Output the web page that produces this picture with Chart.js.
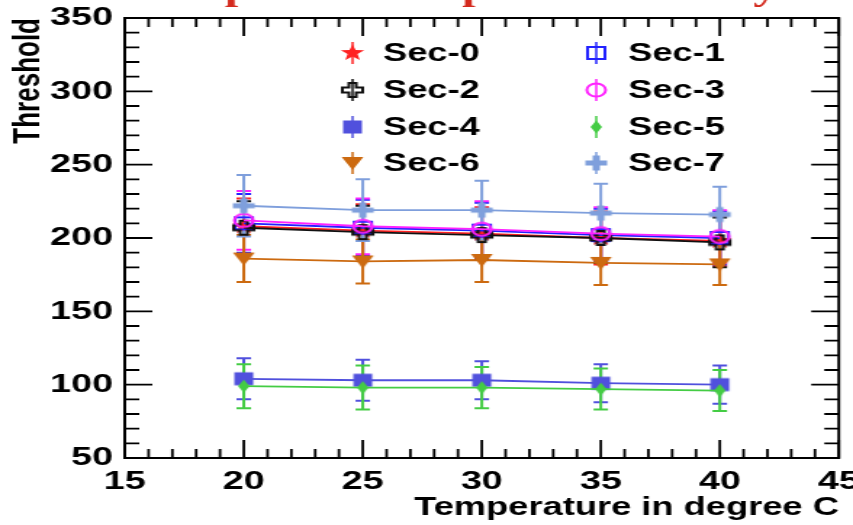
<!DOCTYPE html>
<html>
<head>
<meta charset="utf-8">
<script src="https://cdn.jsdelivr.net/npm/chart.js@4.4.0/dist/chart.umd.min.js"></script>
<style>
  html, body { margin: 0; padding: 0; background: #fff; overflow: hidden; }
  /* the original picture is stretched sideways, so draw narrow and stretch */
  #wrap { width: 588px; height: 525px; transform: scaleX(1.4507); transform-origin: 0 0; }
</style>
</head>
<body>
<div id="wrap"><canvas id="myChart" width="588" height="525"></canvas></div>
<script>
const temps = [20, 25, 30, 35, 40];

const sec0 = [208, 205, 203, 200, 198];
const sec1 = [210, 207, 205, 202, 200];
const sec2 = [207, 204, 202, 200, 197];
const sec3 = [212, 208, 206, 203, 201];
const sec4 = [104, 103, 103, 101, 100];
const sec5 = [99, 98, 98, 97, 96];
const sec6 = [186, 184, 185, 183, 182];
const sec7 = [222, 219, 219, 217, 216];

const err0 = [19, 18, 18, 18, 17];
const err1 = [20, 19, 19, 18, 18];
const err2 = [18, 18, 17, 17, 17];
const err3 = [20, 19, 19, 18, 18];
const err4 = [14, 14, 13, 13, 13];
const err5 = [15, 15, 14, 14, 14];
const err6 = [16, 15, 15, 15, 14];
const err7 = [21, 21, 20, 20, 19];

const names = ['Sec-0', 'Sec-1', 'Sec-2', 'Sec-3', 'Sec-4', 'Sec-5', 'Sec-6', 'Sec-7'];
const colors = ['#ff2222', '#2222ff', '#111111', '#ff22ff', '#5050dd', '#44cc44', '#cc6a10', '#7f9fdc'];
const markers = ['star', 'openSquare', 'openCross', 'openCircle', 'square', 'diamond', 'triangleDown', 'cross'];

const xTickValues = [15, 20, 25, 30, 35, 40, 45];
const yTickValues = [50, 100, 150, 200, 250, 300, 350];

const series = [sec0, sec1, sec2, sec3, sec4, sec5, sec6, sec7];
const errs = [err0, err1, err2, err3, err4, err5, err6, err7];

const titleText = 'Temperature dependence study';

function markerCanvas(kind, color) {
    const c = document.createElement('canvas');
    c.width = 20; c.height = 20;
    const g = c.getContext('2d');
    g.translate(10, 10);
    g.fillStyle = color;
    g.strokeStyle = color;
    g.lineWidth = 2;
    g.beginPath();
    if (kind === 'star') {
        for (let k = 0; k < 10; k++) {
            const r = k % 2 === 0 ? 8.5 : 3.6;
            const a = -Math.PI / 2 + k * Math.PI / 5;
            g.lineTo(r * Math.cos(a), r * Math.sin(a));
        }
        g.closePath(); g.fill();
    } else if (kind === 'openSquare') {
        g.strokeRect(-6, -6, 12, 12);
    } else if (kind === 'openCross') {
        const w = 2.5, l = 7;
        g.moveTo(-w, -l); g.lineTo(w, -l); g.lineTo(w, -w); g.lineTo(l, -w); g.lineTo(l, w);
        g.lineTo(w, w); g.lineTo(w, l); g.lineTo(-w, l); g.lineTo(-w, w); g.lineTo(-l, w);
        g.lineTo(-l, -w); g.lineTo(-w, -w); g.closePath(); g.stroke();
    } else if (kind === 'openCircle') {
        g.arc(0, 0, 6.5, 0, Math.PI * 2); g.stroke();
    } else if (kind === 'square') {
        g.fillRect(-6.5, -6.5, 13, 13);
    } else if (kind === 'diamond') {
        g.moveTo(0, -6.5); g.lineTo(4, 0); g.lineTo(0, 6.5); g.lineTo(-4, 0); g.closePath(); g.fill();
    } else if (kind === 'triangleDown') {
        g.moveTo(-7.5, -6); g.lineTo(7.5, -6); g.lineTo(0, 7); g.closePath(); g.fill();
    } else if (kind === 'cross') {
        g.fillRect(-7.5, -2.5, 15, 5);
        g.fillRect(-2.5, -7.5, 5, 15);
    }
    return c;
}

const markerImgs = markers.map((m, i) => markerCanvas(m, colors[i]));

// later sectors sit on top, as in the original
const datasets = series.map((vals, i) => ({
    label: names[i],
    data: temps.map((t, j) => ({x: t, y: vals[j]})),
    showLine: true,
    borderColor: colors[i],
    backgroundColor: colors[i],
    borderWidth: 1.8,
    pointStyle: markerImgs[i],
    pointRadius: 8,
    pointHoverRadius: 8,
    order: series.length - i
}));

// frame with inward ticks on all four sides, like the original plot
const frame = {
    id: 'frame',
    beforeDatasetsDraw(chart) {
        const {ctx, chartArea: a, scales: {x, y}} = chart;
        ctx.save();
        ctx.strokeStyle = '#000';
        ctx.lineWidth = 2;
        ctx.strokeRect(a.left, a.top, a.right - a.left, a.bottom - a.top);
        ctx.lineWidth = 1.8;
        ctx.beginPath();
        for (let v = x.min; v <= x.max; v += 1) {
            const px = x.getPixelForValue(v);
            const len = v % 5 === 0 ? 18 : 9;
            ctx.moveTo(px, a.bottom); ctx.lineTo(px, a.bottom - len);
            ctx.moveTo(px, a.top); ctx.lineTo(px, a.top + len);
        }
        for (let v = y.min; v <= y.max; v += 10) {
            const py = y.getPixelForValue(v);
            const len = v % 50 === 0 ? 19 : 10;
            ctx.moveTo(a.left, py); ctx.lineTo(a.left + len, py);
            ctx.moveTo(a.right, py); ctx.lineTo(a.right - len, py);
        }
        ctx.stroke();
        ctx.restore();
    }
};

const errorBars = {
    id: 'errorBars',
    beforeDatasetsDraw(chart) {
        const {ctx, scales: {x, y}} = chart;
        chart.data.datasets.forEach((ds, i) => {
            const e = errs[i];
            ctx.save();
            ctx.strokeStyle = ds.borderColor;
            ctx.lineWidth = 2;
            ctx.beginPath();
            ds.data.forEach((p, j) => {
                const px = x.getPixelForValue(p.x);
                const top = y.getPixelForValue(p.y + e[j]);
                const bot = y.getPixelForValue(p.y - e[j]);
                ctx.moveTo(px, top); ctx.lineTo(px, bot);
                ctx.moveTo(px - 5, top); ctx.lineTo(px + 5, top);
                ctx.moveTo(px - 5, bot); ctx.lineTo(px + 5, bot);
            });
            ctx.stroke();
            ctx.restore();
        });
    }
};

const legendBox = {
    id: 'legendBox',
    afterDraw(chart) {
        const ctx = chart.ctx;
        const markX = [243, 411], textX = [264, 433];
        const rowY = [53, 90, 127, 163];
        ctx.save();
        chart.data.datasets.forEach((ds, i) => {
            const col = i % 2, row = Math.floor(i / 2);
            const mx = markX[col], my = rowY[row];
            ctx.strokeStyle = ds.borderColor;
            ctx.lineWidth = 1.5;
            ctx.beginPath();
            ctx.moveTo(mx, my - 11); ctx.lineTo(mx, my + 11);
            ctx.stroke();
            const img = ds.pointStyle;
            ctx.drawImage(img, mx - img.width / 2, my - img.height / 2);
            ctx.fillStyle = '#000';
            ctx.font = 'bold 25px "Liberation Sans", Arial, sans-serif';
            ctx.textAlign = 'left';
            ctx.textBaseline = 'middle';
            ctx.fillText(ds.label, textX[col], my + 1);
        });
        ctx.restore();
    }
};

// the page title above the plot is cut off, only its lower edge shows
const cutTitle = {
    id: 'cutTitle',
    afterDraw(chart) {
        const ctx = chart.ctx;
        ctx.save();
        ctx.fillStyle = '#d42a1e';
        ctx.font = 'bold 33px "Liberation Serif", "Times New Roman", serif';
        ctx.textAlign = 'left';
        ctx.textBaseline = 'alphabetic';
        ctx.fillText(titleText, 94, 0);
        ctx.restore();
    }
};

const noPad = () => ({left: 0, top: 0, right: 0, bottom: 0});
const tickFont = {family: '"Liberation Sans", Arial, sans-serif', weight: 'bold', size: 26};

new Chart(document.getElementById('myChart'), {
    type: 'scatter',
    data: {datasets: datasets},
    options: {
        responsive: false,
        animation: false,
        devicePixelRatio: 1,
        layout: {padding: {top: 18, right: 6, bottom: 0, left: 0}},
        plugins: {
            legend: {display: false},
            title: {display: false},
            tooltip: {enabled: false}
        },
        scales: {
            x: {
                type: 'linear',
                min: 15,
                max: 45,
                afterBuildTicks: s => { s.ticks = xTickValues.map(v => ({value: v})); },
                afterFit: s => {
                    s.height = 67;
                    s.paddingLeft = 0; s.paddingRight = 0;
                    s.getPadding = noPad;
                },
                grid: {display: false, drawTicks: false},
                border: {display: false},
                ticks: {color: '#000', font: tickFont, padding: 8, maxRotation: 0, autoSkip: false},
                title: {
                    display: true,
                    text: 'Temperature in degree C',
                    align: 'end',
                    color: '#000',
                    font: {family: '"Liberation Sans", Arial, sans-serif', weight: 'bold', size: 25},
                    padding: {top: 0, bottom: 2}
                }
            },
            y: {
                type: 'linear',
                min: 50,
                max: 350,
                afterBuildTicks: s => { s.ticks = yTickValues.map(v => ({value: v})); },
                afterFit: s => {
                    s.width = 86;
                    s.paddingTop = 0; s.paddingBottom = 0;
                    s.getPadding = noPad;
                },
                grid: {display: false, drawTicks: false},
                border: {display: false},
                ticks: {color: '#000', font: tickFont, padding: 8},
                title: {
                    display: true,
                    text: 'Threshold',
                    align: 'end',
                    color: '#000',
                    font: {family: '"Liberation Sans", Arial, sans-serif', weight: 'bold', size: 26},
                    padding: {top: 4, bottom: 0}
                }
            }
        }
    },
    plugins: [frame, errorBars, legendBox, cutTitle]
});
</script>
</body>
</html>
